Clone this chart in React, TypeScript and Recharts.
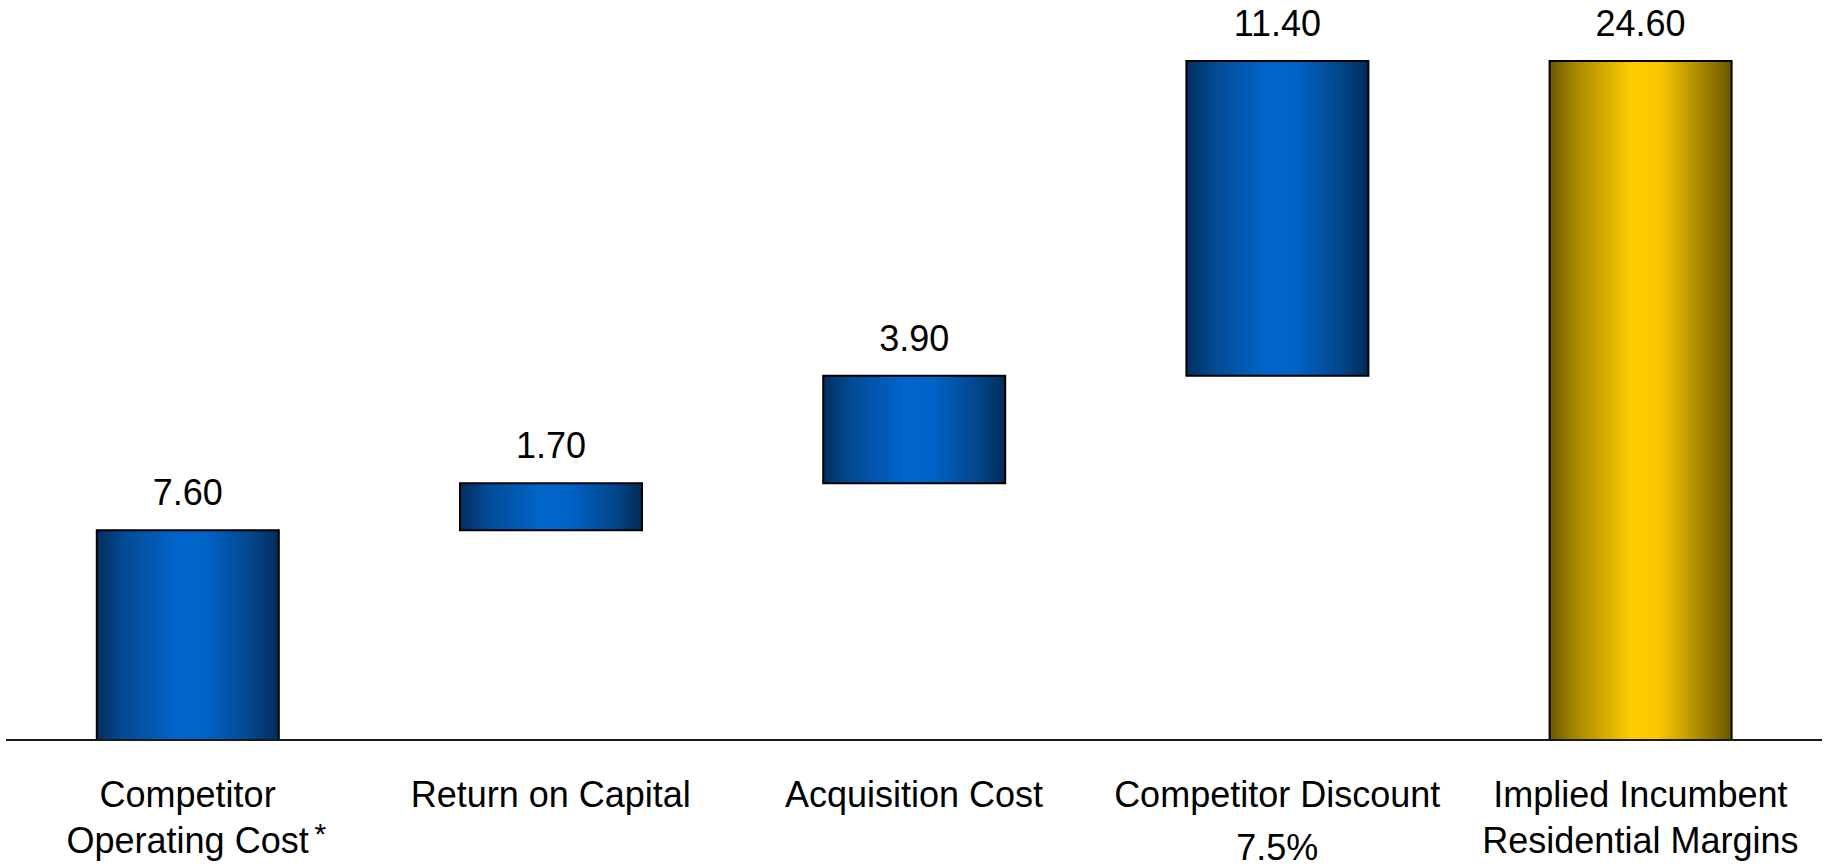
import { BarChart, Bar, XAxis, YAxis, Cell, LabelList } from "recharts";

// waterfall steps
const categories = [
  "Competitor Operating Cost",
  "Return on Capital",
  "Acquisition Cost",
  "Competitor Discount",
  "Implied Incumbent Residential Margins",
];
const baseValues = [0, 7.6, 9.3, 13.2, 0];
const stepValues = [7.6, 1.7, 3.9, 11.4, 24.6];
const isTotal = [false, false, false, false, true];

const data = categories.map((name, i) => ({
  name,
  base: baseValues[i],
  value: stepValues[i],
}));

const FONT = '"Liberation Sans", Arial, Helvetica, sans-serif';

function CategoryTick(props: any) {
  const { x, y, payload } = props;
  const txt = { fontFamily: FONT, fontSize: 36, fill: "#000", textAnchor: "middle" as const };
  switch (payload.index) {
    case 0:
      return (
        <g>
          <text x={x} y={y + 67} {...txt}>Competitor</text>
          <text x={x} y={y + 113} {...txt}>Operating Cost</text>
          <text x={x + 127} y={y + 104} fontFamily={FONT} fontSize={30} fill="#000">*</text>
        </g>
      );
    case 3:
      return (
        <g>
          <text x={x} y={y + 67} {...txt}>Competitor Discount</text>
          <text x={x} y={y + 120} {...txt}>7.5%</text>
        </g>
      );
    case 4:
      return (
        <g>
          <text x={x} y={y + 67} {...txt}>Implied Incumbent</text>
          <text x={x} y={y + 113} {...txt}>Residential Margins</text>
        </g>
      );
    default:
      return (
        <text x={x} y={y + 67} {...txt}>{payload.value}</text>
      );
  }
}

export default function App() {
  return (
    <div style={{ position: "absolute", left: 0, top: 0, background: "#fff" }}>
      <BarChart
        width={1826}
        height={866}
        data={data}
        margin={{ top: 61, right: 4, bottom: 0, left: 6 }}
        barCategoryGap="25%"
      >
        <defs>
          <linearGradient id="blueGrad" x1="0" y1="0" x2="1" y2="0">
            <stop offset="0%" stopColor="#022e5e" />
            <stop offset="15%" stopColor="#034a94" />
            <stop offset="45%" stopColor="#0066cc" />
            <stop offset="60%" stopColor="#0063c6" />
            <stop offset="85%" stopColor="#03468c" />
            <stop offset="100%" stopColor="#022b57" />
          </linearGradient>
          <linearGradient id="goldGrad" x1="0" y1="0" x2="1" y2="0">
            <stop offset="0%" stopColor="#6b5800" />
            <stop offset="15%" stopColor="#a88a00" />
            <stop offset="45%" stopColor="#ffcc00" />
            <stop offset="60%" stopColor="#fbc800" />
            <stop offset="85%" stopColor="#a08400" />
            <stop offset="100%" stopColor="#6a5700" />
          </linearGradient>
        </defs>

        <XAxis
          dataKey="name"
          height={126}
          interval={0}
          tickSize={0}
          tickMargin={0}
          tickLine={false}
          axisLine={{ stroke: "#1a1a1a", strokeWidth: 2 }}
          tick={<CategoryTick />}
        />
        <YAxis hide domain={[0, 24.6]} />

        {/* invisible offset so each step floats */}
        <Bar dataKey="base" stackId="a" fill="transparent" isAnimationActive={false} />
        <Bar
          dataKey="value"
          stackId="a"
          stroke="#000"
          strokeWidth={2}
          isAnimationActive={false}
        >
          {data.map((_, i) => (
            <Cell key={i} fill={isTotal[i] ? "url(#goldGrad)" : "url(#blueGrad)"} />
          ))}
          <LabelList
            dataKey="value"
            position="top"
            offset={25}
            formatter={(v: any) => Number(v).toFixed(2)}
            style={{ fontFamily: FONT, fontSize: 36, fill: "#000" }}
          />
        </Bar>
      </BarChart>
    </div>
  );
}
